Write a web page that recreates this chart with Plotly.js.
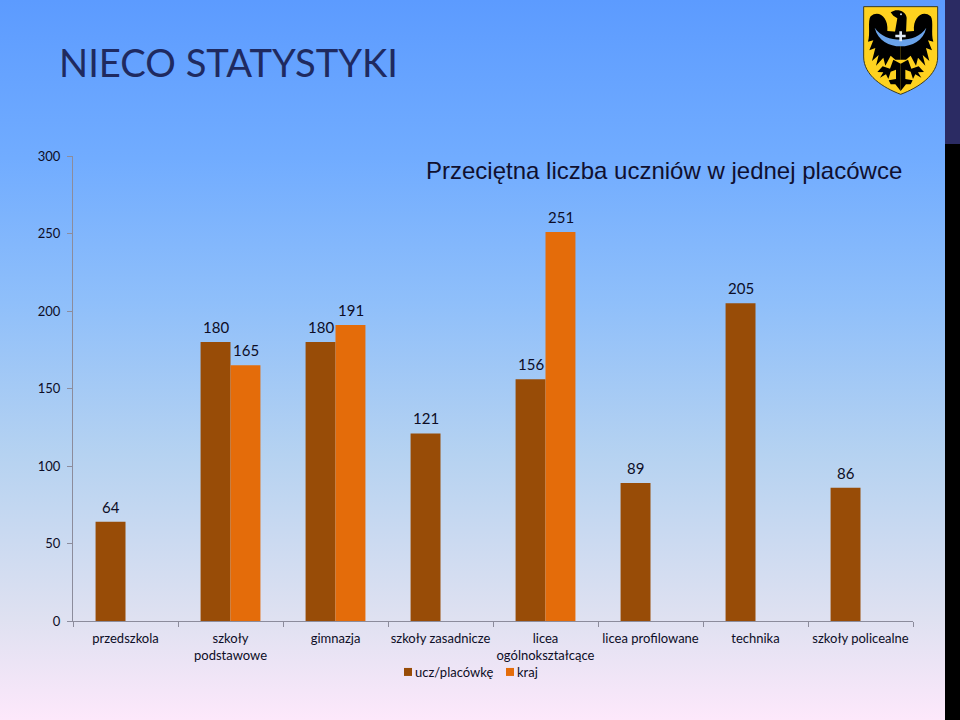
<!DOCTYPE html>
<html><head><meta charset="utf-8">
<script src="https://cdn.plot.ly/plotly-3.0.1.min.js"></script>
<style>
html,body{margin:0;padding:0;width:960px;height:720px;overflow:hidden}
body{background:linear-gradient(180deg,#5c9bff 0%,#71acff 22%,#8fbffa 42%,#b5d2f1 63%,#dfe1f1 86%,#fde8fb 100%);position:relative}
#chart{position:absolute;left:0;top:0;width:960px;height:720px}
#band1{position:absolute;left:945px;top:0;width:15px;height:144px;background:#2b2b63}
#band2{position:absolute;left:945px;top:144px;width:15px;height:576px;background:#000}
#crest{position:absolute;left:862px;top:4.67px;width:77.33px;height:90.67px}
</style></head><body>
<div id="chart"></div>
<div id="band1"></div><div id="band2"></div>
<svg id="crest" viewBox="66 14 232 272">
<path d="M71 19H293V170C293 225 235 262 182 282C129 262 71 225 71 170Z" fill="#ffd21f" stroke="#3a3a20" stroke-width="3"/>
<g fill="#000">
<path d="M142 92C146 50 115 28 92 48C82 62 92 100 84 124L100 120L88 150L106 143L96 182L116 164L108 196L130 172L136 196L152 166L166 178L182 178V95Z"/>
<path d="M182 190L160 178L150 205L128 198L112 215L130 216L120 232L138 222L145 236L152 214L168 208L168 236L146 240L152 252L166 252L182 272Z"/>
</g>
<g fill="#000" transform="matrix(-1 0 0 1 364 0)">
<path d="M142 92C146 50 115 28 92 48C82 62 92 100 84 124L100 120L88 150L106 143L96 182L116 164L108 196L130 172L136 196L152 166L166 178L182 178V95Z"/>
<path d="M182 190L160 178L150 205L128 198L112 215L130 216L120 232L138 222L145 236L152 214L168 208L168 236L146 240L152 252L166 252L182 272Z"/>
</g>
<path d="M152 36L166 30C182 28 198 36 200 52L198 100H164L172 54L160 46Z" fill="#000"/>
<circle cx="183" cy="42" r="3" fill="#cfd8e8"/>
<path d="M104 82C122 108 150 118 182 118C214 118 242 108 259 82C250 122 216 138 182 138C148 138 114 122 104 82Z" fill="#6aa3ea"/>
<path d="M178 93H186V103H197V111H186V123H178V111H166V103H178Z" fill="#dfe8f5"/>
</svg>
<script>
const categories=['przedszkola','szkoły<br>podstawowe','gimnazja','szkoły zasadnicze','licea<br>ogólnokształcące','licea profilowane','technika','szkoły policealne'];
const seriesNames=['ucz/placówkę','kraj'];
const ucz=[64,180,180,121,156,89,205,86];
const kraj=[null,165,191,null,251,null,null,null];
const yTicks=[0,50,100,150,200,250,300];
const slideTitle='NIECO STATYSTYKI';
const chartTitle='Przeciętna liczba uczniów w jednej placówce';
const textCol='#0d0d26';
const labels=[];
[[ucz,-15],[kraj,15]].forEach(([vals,dx])=>vals.forEach((v,i)=>{
  if(v!==null)labels.push({x:categories[i],y:v,text:String(v),xref:'x',yref:'y',xanchor:'center',yanchor:'middle',showarrow:false,xshift:dx,yshift:15,font:{family:'Lato',size:15,color:textCol}});
}));
labels.push({xref:'paper',yref:'paper',x:0.704,y:0.969,xanchor:'center',yanchor:'middle',showarrow:false,text:chartTitle,font:{family:'Liberation Sans',size:24,color:'#101030'}});
Plotly.newPlot('chart',[
 {type:'bar',name:seriesNames[0],x:categories,y:ucz,marker:{color:'#984c07'},cliponaxis:false},
 {type:'bar',name:seriesNames[1],x:categories,y:kraj,marker:{color:'#e46c0a'},cliponaxis:false}
],{
 width:960,height:720,autosize:false,
 paper_bgcolor:'rgba(0,0,0,0)',plot_bgcolor:'rgba(0,0,0,0)',
 margin:{l:73,r:47,t:156,b:99,pad:0},
 barmode:'group',bargap:0.43,bargroupgap:0,
 title:{text:slideTitle,x:59/960,xanchor:'left',xref:'container',y:1-64/720,yanchor:'middle',font:{family:'Lato',size:38.2,color:'#1f2a60'}},
 xaxis:{type:'category',tickson:'boundaries',ticks:'outside',ticklen:5,tickcolor:'#8c8c9c',linecolor:'#8c8c9c',linewidth:1,showline:true,showgrid:false,zeroline:false,tickfont:{family:'Lato',size:13,color:textCol},tickangle:0,automargin:false,ticklabelstandoff:5},
 yaxis:{range:[0,300],tickvals:yTicks,ticks:'outside',ticklen:5,tickcolor:'#8c8c9c',linecolor:'#8c8c9c',linewidth:1,showline:true,showgrid:false,zeroline:false,tickfont:{family:'Lato',size:13,color:textCol},ticklabelstandoff:4,automargin:false},
 legend:{orientation:'h',x:473/960,xref:'container',xanchor:'center',y:1-672/720,yref:'container',yanchor:'middle',font:{family:'Lato',size:13,color:textCol},bgcolor:'rgba(0,0,0,0)',itemwidth:30,traceorder:'normal'},
 annotations:labels
},{displayModeBar:false,staticPlot:true}).then(()=>{
 const swatchX=[408,510],textX=[415,517];
 document.querySelectorAll('.legend .traces').forEach((t,i)=>{
  const txt=t.querySelector('.legendtext');
  if(txt)txt.setAttribute('x',textX[i]-t.getScreenCTM().e);
  const p=t.querySelector('.legendpoints path');
  if(p){p.setAttribute('d','M4,4H-4V-4H4Z');p.setAttribute('transform','translate('+(swatchX[i]-p.parentNode.getScreenCTM().e)+',0)');}
 });
});
</script>
</body></html>
